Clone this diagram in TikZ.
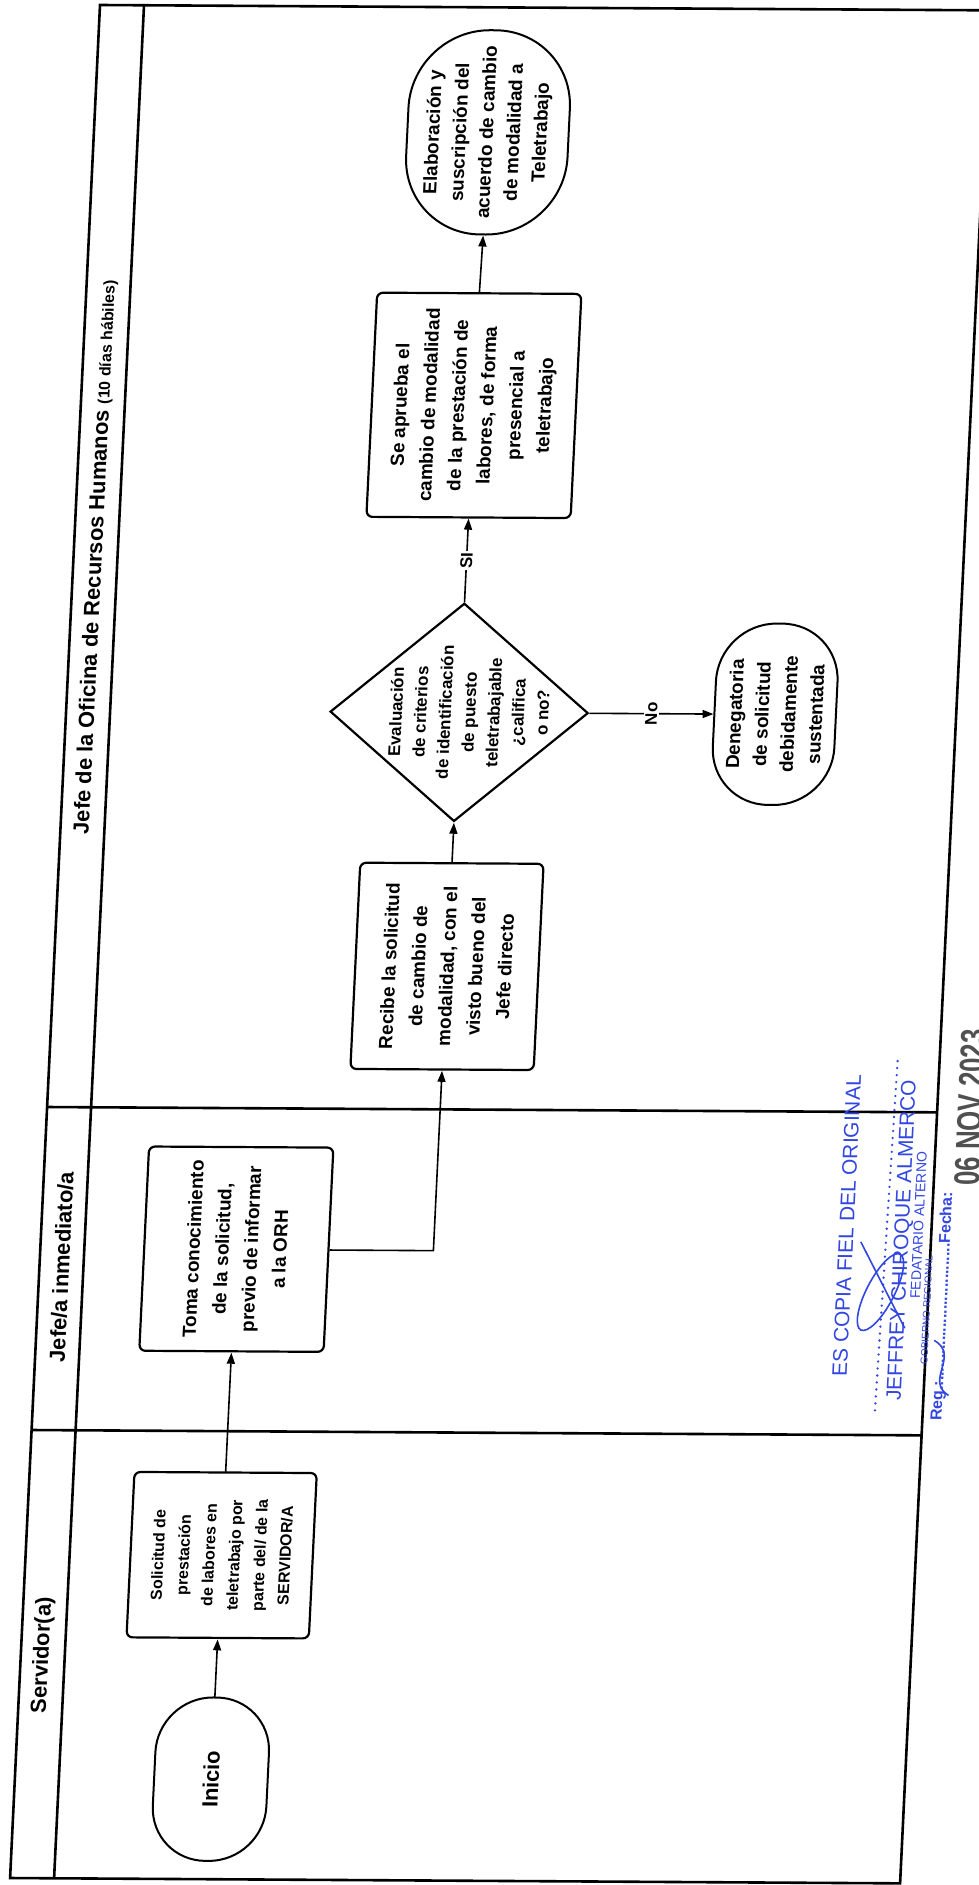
\documentclass[tikz,border=0pt]{standalone}
\usepackage{fontspec}
\setmainfont{Liberation Sans}
\newfontfamily\datestampfont{Liberation Sans}[FakeStretch=0.72]
\usetikzlibrary{arrows.meta,shapes.geometric}
\definecolor{stampblue}{RGB}{50,70,225}
\definecolor{stampgray}{RGB}{80,80,80}
\begin{document}
\begin{tikzpicture}[x=1bp,y=1bp,
  frameline/.style={line width=2.6bp},
  box/.style={draw, line width=2.2bp, rounded corners=6bp, rotate=90, align=center, inner sep=0pt, font=\bfseries\fontsize{19}{29}\selectfont},
  term/.style={draw, line width=2bp, rotate=90, align=center, inner sep=0pt, font=\bfseries\fontsize{19}{27}\selectfont},
  conn/.style={line width=1.6bp, -{Triangle[length=11bp,width=8bp]}},
  lbl/.style={rotate=90, fill=white, inner sep=1.5bp, font=\bfseries\fontsize{17}{20}\selectfont},
  hdr/.style={rotate=90, font=\bfseries\fontsize{22}{26}\selectfont},
  stamptext/.style={rotate=90, text=stampblue, inner sep=0pt}
]
\fill[white] (0,0) rectangle (978,-1885);
\useasboundingbox (0,0) rectangle (978,-1885);
\begin{scope}[cm={1,-0.006,0.048,1,(100bp,-5bp)}, transform shape]
  % frame and lanes
  \draw[frameline] (0,0) rectangle (890,-1873);
  \draw[frameline] (44,0) -- (44,-1873);
  \draw[frameline] (0,-1102) -- (890,-1102);
  \draw[frameline] (0,-1425) -- (890,-1425);

  % lane headers
  \node[hdr] (t1) at (22,-552) {Jefe de la Oficina de Recursos Humanos {\fontsize{16}{20}\selectfont(10 días hábiles)}};
  \node[hdr] (t2) at (22,-1262) {Jefe/a inmediato/a};
  \node[hdr] (t3) at (22,-1650) {Servidor(a)};

  % nodes
  \node[term, rounded corners=55bp, minimum width=164, minimum height=114, font=\bfseries\fontsize{22}{26}\selectfont] (inicio) at (196,-1773) {Inicio};
  \node[box, minimum width=166, minimum height=183, font=\bfseries\fontsize{16}{25.5}\selectfont] (sol) at (196,-1549) {Solicitud de\\prestación\\de labores en\\teletrabajo por\\parte del/ de la\\SERVIDOR/A};
  \node[box, minimum width=205, minimum height=185] (toma) at (196,-1243) {Toma conocimiento\\de la solicitud,\\previo de informar\\a la ORH};
  \node[box, minimum width=207, minimum height=184] (rec) at (393,-959) {Recibe la solicitud\\de cambio de\\modalidad, con el\\visto bueno del\\Jefe directo};
  \node[draw, diamond, line width=2.2bp, rotate=90, minimum width=219, minimum height=259, inner sep=0pt] (dec) at (393,-705) {};
  \node[rotate=90, align=center, inner sep=0pt, font=\bfseries\fontsize{17}{24.5}\selectfont] (dectext) at (403,-705) {Evaluación\\de criterios\\de identificación\\de puesto\\teletrabajable\\¿califica\\o no?};
  \node[box, minimum width=225, minimum height=205] (apr) at (393,-398) {Se aprueba el\\cambio de modalidad\\de la prestación de\\labores, de forma\\presencial a\\teletrabajo};
  \node[term, rounded corners=78bp, minimum width=205, minimum height=162] (elab) at (394,-125) {Elaboración y\\suscripción del\\acuerdo de cambio\\de modalidad a\\Teletrabajo};
  \node[term, rounded corners=58bp, minimum width=182, minimum height=122] (den) at (709,-705) {Denegatoria\\de solicitud\\debidamente\\sustentada};

  % connectors
  \coordinate (elbow) at (393,-1243);
  \draw[conn] (inicio.east) -- (sol.west);
  \draw[conn] (sol.east) -- (toma.west);
  \draw[conn] (toma.south) -- (elbow) -- (rec.west);
  \draw[conn] (rec.east) -- (dec.west);
  \draw[conn] (dec.east) -- node[lbl] (si) {SI} (apr.west);
  \draw[conn] (dec.south) -- node[lbl] (no) {No} (den.north);
  \draw[conn] (apr.east) -- (elab.west);

  % stamp
  \node[stamptext, font=\fontsize{21}{24}\selectfont] (st1) at (805,-1216) {ES COPIA FIEL DEL ORIGINAL};
  \coordinate (dotA) at (842,-1400);
  \coordinate (dotB) at (848,-1045);
  \draw[stampblue, line width=2.6bp, line cap=round, dash pattern=on 0bp off 7bp] (dotA) -- (dotB);
  \node[stamptext, font=\fontsize{21}{24}\selectfont] (st2) at (862,-1230) {JEFFREY CHIROQUE ALMERCO};
  \node[stamptext, font=\fontsize{14}{16}\selectfont] (st3) at (877,-1215) {FEDATARIO ALTERNO};
  \node[stamptext, font=\fontsize{10}{12}\selectfont] (st4) at (889,-1300) {GOBIERNO REGIONAL};
  \node[stamptext, font=\bfseries\fontsize{16}{18}\selectfont] (st5) at (905,-1296) {Reg.:...............................Fecha:};
  \node[rotate=90, text=stampgray, inner sep=0pt, font=\datestampfont\bfseries\fontsize{36}{38}\selectfont] (st6) at (923,-1097) {06 NOV 2023};
  \draw[stampblue, line width=1.6bp] (842,-1282) ellipse [x radius=14, y radius=42, rotate=-25];
  \draw[stampblue, line width=1.6bp] (820,-1232) -- (868,-1318);
  \draw[stampblue, line width=1.6bp] (898,-1330) .. controls (925,-1345) and (890,-1370) .. (915,-1385);
\end{scope}
\end{tikzpicture}
\end{document}
